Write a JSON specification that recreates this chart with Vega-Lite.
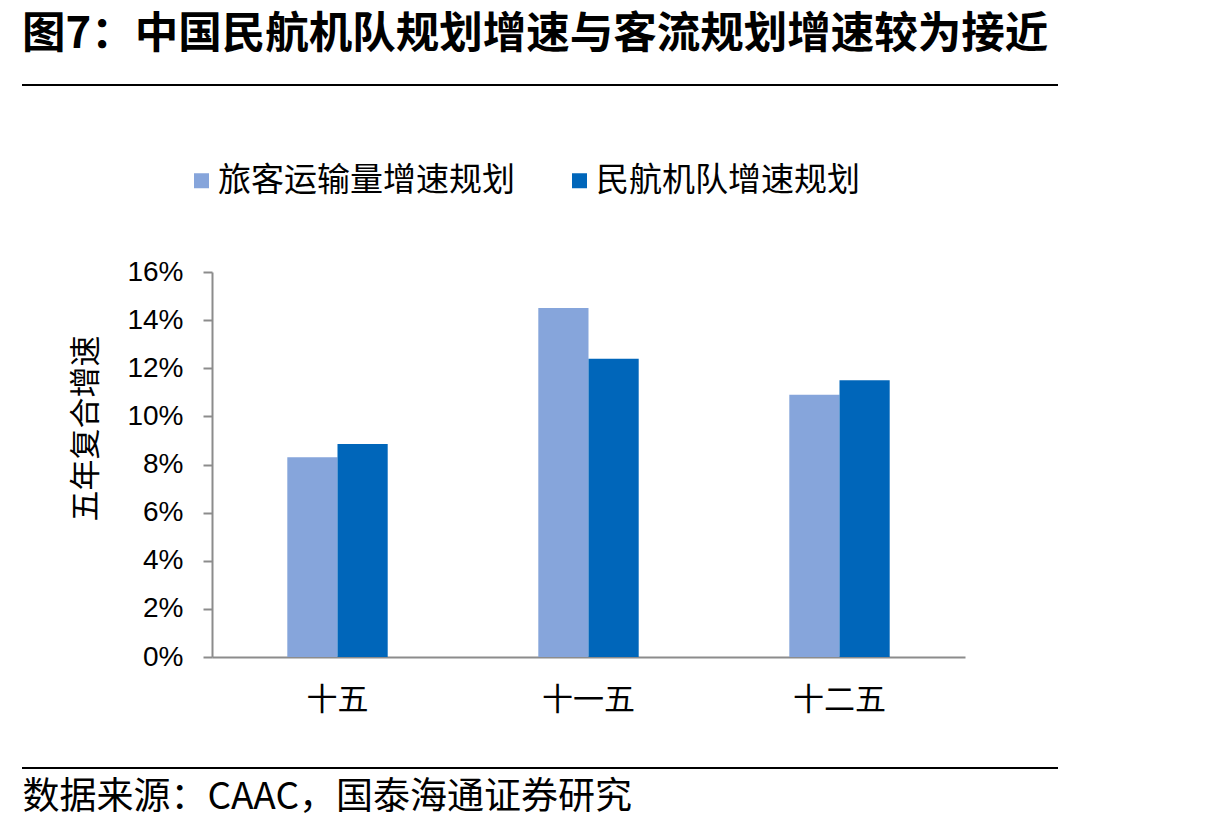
{
  "$schema": "https://vega.github.io/schema/vega-lite/v6.json",
  "width": 1036,
  "height": 385,
  "autosize": {"type": "none"},
  "padding": {"left": 22, "top": 272, "right": 157, "bottom": 170},
  "background": "white",
  "config": {
    "view": {"stroke": null},
    "font": "Noto Sans CJK SC"
  },
  "title": {
    "text": "图7：中国民航机队规划增速与客流规划增速较为接近",
    "anchor": "start",
    "frame": "group",
    "font": "Noto Sans CJK SC",
    "fontSize": 43.5,
    "fontWeight": "bold",
    "color": "black",
    "offset": 27
  },
  "data": {
    "values": [
      {"period": "十五", "series": "旅客运输量增速规划", "value": 0.083},
      {"period": "十五", "series": "民航机队增速规划", "value": 0.0885},
      {"period": "十一五", "series": "旅客运输量增速规划", "value": 0.145},
      {"period": "十一五", "series": "民航机队增速规划", "value": 0.124},
      {"period": "十二五", "series": "旅客运输量增速规划", "value": 0.109},
      {"period": "十二五", "series": "民航机队增速规划", "value": 0.115}
    ]
  },
  "layer": [
    {
      "mark": {"type": "bar"},
      "encoding": {
        "x": {
          "field": "period",
          "type": "nominal",
          "sort": ["十五", "十一五", "十二五"],
          "scale": {"range": [190, 943], "paddingInner": 0.6, "paddingOuter": 0.3},
          "axis": {
            "title": "数据来源：CAAC，国泰海通证券研究",
            "titleFont": "Noto Sans CJK SC",
            "titleFontSize": 37,
            "titleFontWeight": "normal",
            "titleColor": "black",
            "titleAnchor": "start",
            "titleAlign": "left",
            "titleBaseline": "middle",
            "titleX": 0,
            "titleY": 140,
            "labelAngle": 0,
            "labelFont": "Noto Sans CJK SC",
            "labelFontSize": 31,
            "labelColor": "black",
            "labelPadding": 28,
            "ticks": false,
            "domainColor": "#8c8c8c",
            "domainWidth": 2
          }
        },
        "xOffset": {
          "field": "series",
          "type": "nominal",
          "sort": ["旅客运输量增速规划", "民航机队增速规划"]
        },
        "y": {
          "field": "value",
          "type": "quantitative",
          "scale": {"domain": [0, 0.16], "nice": false},
          "axis": {
            "title": "五年复合增速",
            "titleFont": "Noto Sans CJK SC",
            "titleFontSize": 31,
            "titleFontWeight": "normal",
            "titleColor": "black",
            "titleAngle": -90,
            "titleAlign": "center",
            "titleBaseline": "middle",
            "titleX": -126,
            "titleY": 156,
            "offset": -190,
            "values": [0, 0.02, 0.04, 0.06, 0.08, 0.1, 0.12, 0.14, 0.16],
            "format": ".0%",
            "labelFont": "Liberation Sans",
            "labelFontSize": 28,
            "labelColor": "black",
            "labelPadding": 20,
            "tickSize": 9,
            "tickColor": "#8c8c8c",
            "tickWidth": 2,
            "domainColor": "#8c8c8c",
            "domainWidth": 2,
            "grid": false
          }
        },
        "color": {
          "field": "series",
          "type": "nominal",
          "sort": ["旅客运输量增速规划", "民航机队增速规划"],
          "scale": {"range": ["#86A5DB", "#0066BA"]},
          "legend": {
            "title": null,
            "orient": "none",
            "legendX": 163,
            "legendY": -108,
            "direction": "horizontal",
            "symbolType": "square",
            "symbolSize": 225,
            "symbolStrokeWidth": 0,
            "labelFont": "Noto Sans CJK SC",
            "labelFontSize": 33,
            "labelColor": "black",
            "labelOffset": 0,
            "columnPadding": 48,
            "labelLimit": 500
          }
        }
      }
    },
    {
      "mark": {"type": "rule", "color": "black", "strokeWidth": 2},
      "encoding": {"y": {"datum": 0.2377, "type": "quantitative"}}
    },
    {
      "mark": {"type": "rule", "color": "black", "strokeWidth": 2},
      "encoding": {"y": {"datum": -0.0461, "type": "quantitative"}}
    }
  ]
}
